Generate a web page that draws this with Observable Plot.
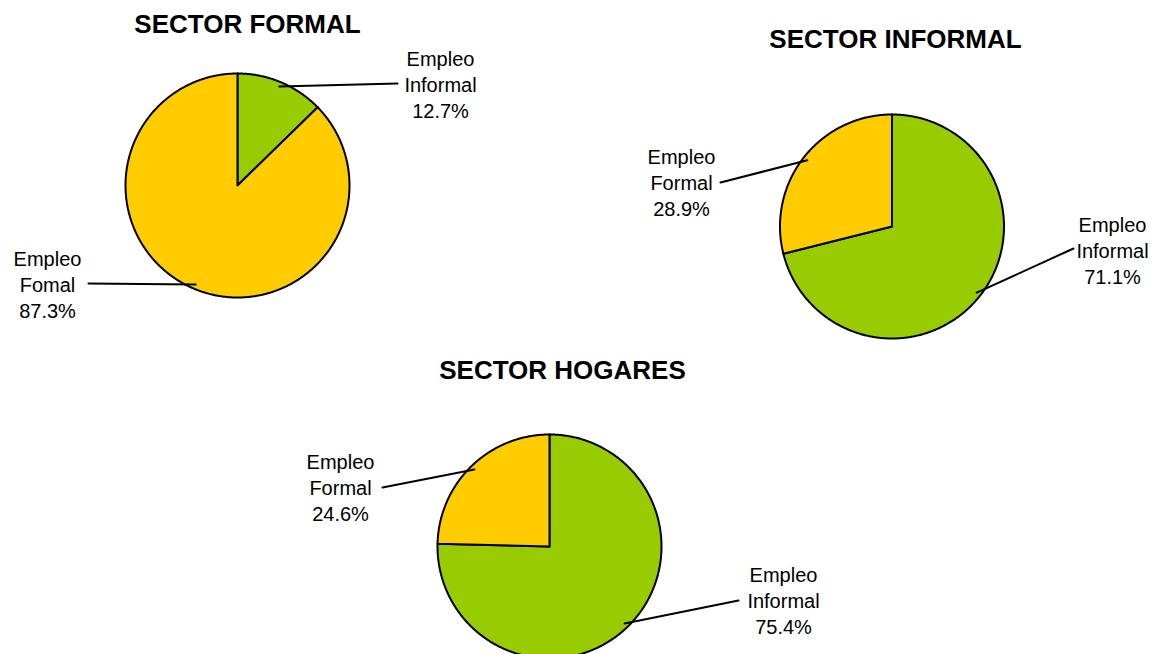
<!DOCTYPE html>
<html><head><meta charset="utf-8">
<script src="https://cdn.jsdelivr.net/npm/d3@7"></script>
<script src="https://cdn.jsdelivr.net/npm/@observablehq/plot@0.6"></script>
<style>html,body{margin:0;padding:0;background:#fff}#chart svg{display:block}</style>
</head><body><div id="chart"></div>
<script>
// ---- data ----
const sectors = ["SECTOR FORMAL", "SECTOR INFORMAL", "SECTOR HOGARES"];
const categories = ["Empleo Informal", "Empleo Formal"];
const informalPct = [12.7, 71.1, 75.4];
const formalPct = [87.3, 28.9, 24.6];
const informalLabels = ["Empleo\nInformal", "Empleo\nInformal", "Empleo\nInformal"];
const formalLabels = ["Empleo\nFomal", "Empleo\nFormal", "Empleo\nFormal"];
const colors = ["#99CC00", "#FFCC00"];

// ---- layout (pixels) ----
const W = 1161, H = 654, R = 112;
const layout = [
  {cx: 237,   cy: 185, title: [247, 24],  lab: [[440, 83],  [47, 283]],  end: [[397, 83],  [88, 283]]},
  {cx: 891.5, cy: 226, title: [895, 39],  lab: [[1112, 249],[681, 181]], end: [[1073, 248],[720, 182]]},
  {cx: 549,   cy: 546, title: [562, 370], lab: [[783, 599], [340, 486]], end: [[738, 600], [382, 487]]}
];

const slices = [], leaders = [], labels = [], titles = [];
sectors.forEach((s, i) => {
  const L = layout[i];
  const vals = [informalPct[i], formalPct[i]];
  const txt = [informalLabels[i], formalLabels[i]];
  titles.push({x: L.title[0], y: L.title[1], text: s});
  let a0 = 0;
  vals.forEach((v, k) => {
    const a1 = a0 + v / 100 * 2 * Math.PI;
    const id = i + "-" + k;
    slices.push({x: L.cx, y: L.cy, id, cat: categories[k]});
    const n = Math.max(2, Math.ceil((a1 - a0) / (Math.PI / 360)));
    for (let j = 0; j <= n; j++) {
      const a = a0 + (a1 - a0) * j / n;
      slices.push({x: L.cx + R * Math.sin(a), y: L.cy - R * Math.cos(a), id, cat: categories[k]});
    }
    slices.push({x: L.cx, y: L.cy, id, cat: categories[k]});
    const am = (a0 + a1) / 2, rr = R * 0.96;
    leaders.push({x: L.cx + rr * Math.sin(am), y: L.cy - rr * Math.cos(am), id});
    leaders.push({x: L.end[k][0], y: L.end[k][1], id});
    labels.push({x: L.lab[k][0], y: L.lab[k][1], text: txt[k] + "\n" + v.toFixed(1) + "%"});
    a0 = a1;
  });
});

const chart = Plot.plot({
  width: W, height: H, margin: 0,
  style: {fontFamily: "'Liberation Sans', Arial, sans-serif", background: "#fff"},
  x: {domain: [0, W], range: [0, W], axis: null},
  y: {domain: [0, H], range: [0, H], axis: null},
  color: {domain: categories, range: colors},
  marks: [
    Plot.line(slices, {x: "x", y: "y", z: "id", fill: "cat", stroke: "#000", strokeWidth: 2, strokeLinejoin: "round", curve: "linear"}),
    Plot.line(leaders, {x: "x", y: "y", z: "id", stroke: "#000", strokeWidth: 2}),
    Plot.text(labels, {x: "x", y: "y", text: "text", textAnchor: "middle", lineAnchor: "middle", lineHeight: 1.3, fontSize: 20, fill: "#000"}),
    Plot.text(titles, {x: "x", y: "y", text: "text", textAnchor: "middle", lineAnchor: "middle", fontSize: 26, fontWeight: "bold", fill: "#000"})
  ]
});
document.getElementById("chart").appendChild(chart);
</script>
</body></html>
